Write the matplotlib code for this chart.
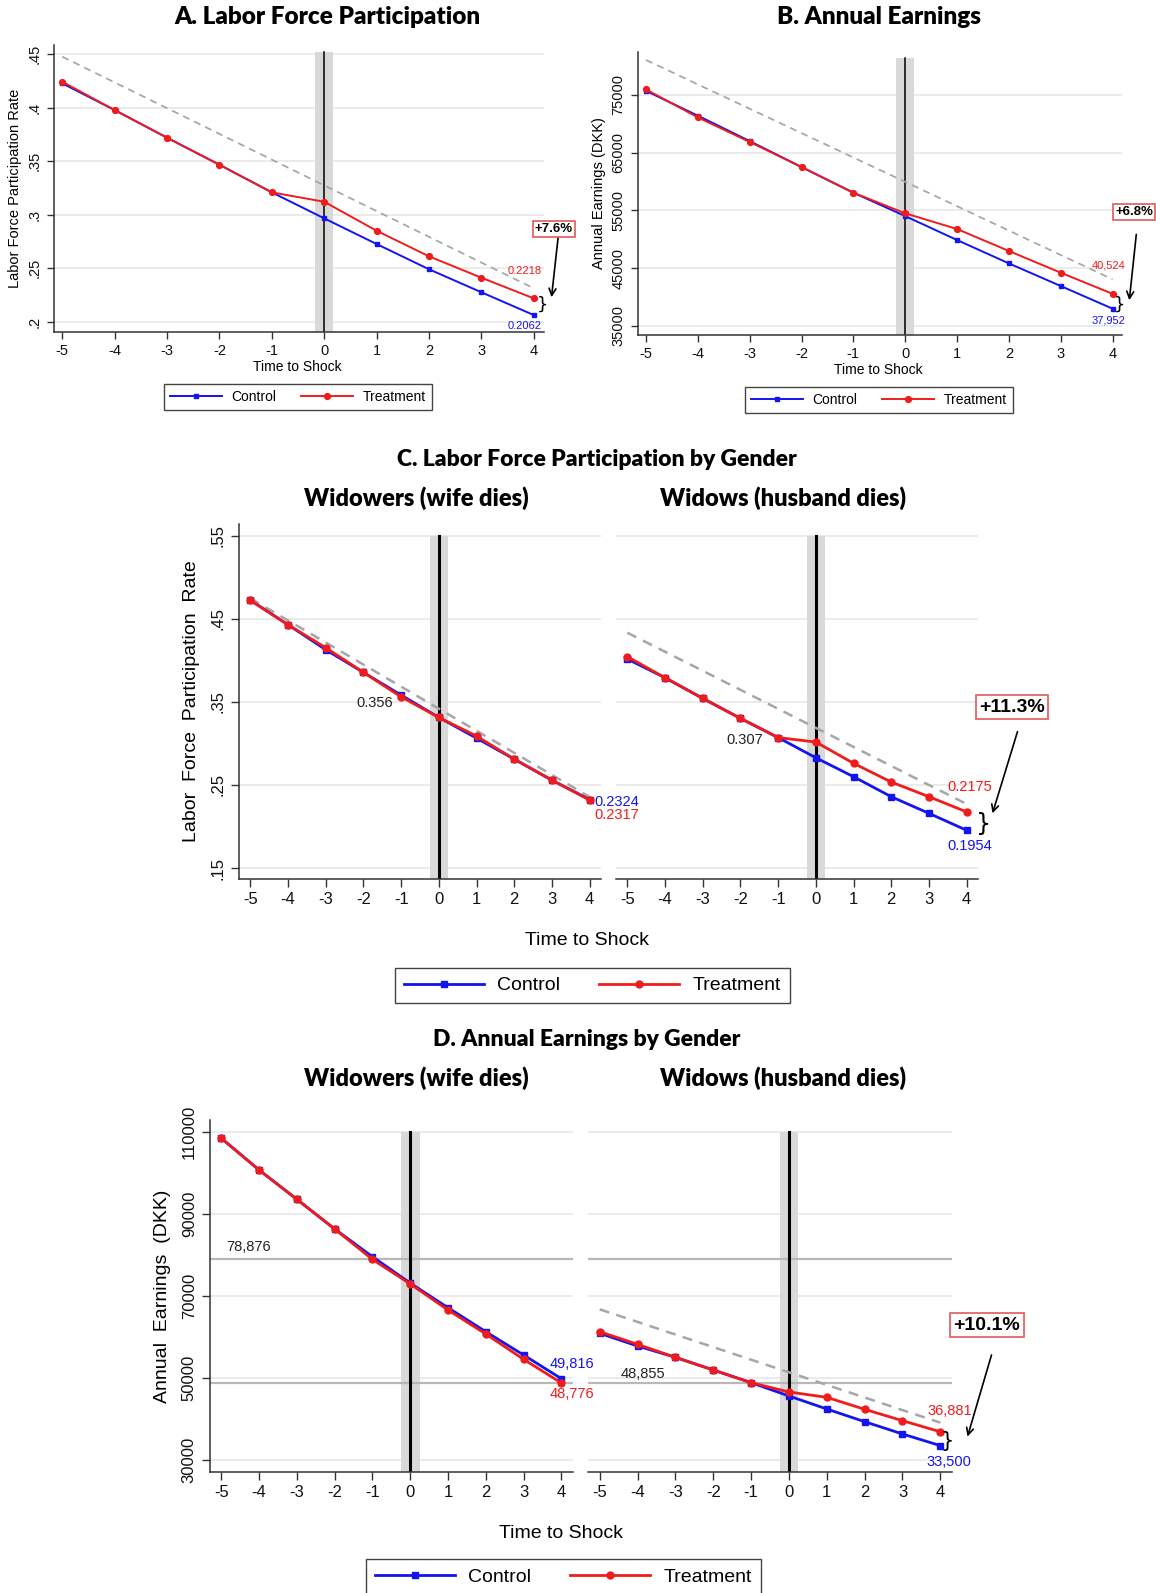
import numpy as np
import matplotlib
matplotlib.use("Agg")
import matplotlib.pyplot as plt
from matplotlib.lines import Line2D
from matplotlib.ticker import FuncFormatter

W, H = 1156, 1593
plt.rcParams['font.family'] = ['Liberation Sans', 'DejaVu Sans']
plt.rcParams['axes.unicode_minus'] = False

t = np.arange(-5, 5)
trend_x = [-5, 4]

# A. labor force participation, all
lfp_ctrl = [0.4228, 0.3978, 0.3720, 0.3467, 0.3209, 0.2966, 0.2726, 0.2490, 0.2275, 0.2062]
lfp_treat = [0.4243, 0.3978, 0.3720, 0.3467, 0.3209, 0.3121, 0.2850, 0.2611, 0.2411, 0.2218]
lfp_trend = [0.4477, 0.2312]

# B. annual earnings, all
earn_ctrl = [75700, 71400, 67000, 62500, 58050, 54000, 49850, 45800, 41880, 37952]
earn_treat = [75950, 71100, 66850, 62500, 58050, 54480, 51760, 47950, 44190, 40524]
earn_trend = [81050, 43040]

# C. labor force participation, widowers / widows
lfp_m_ctrl = [0.4722, 0.4428, 0.4127, 0.3854, 0.3581, 0.3312, 0.3063, 0.2810, 0.2557, 0.2324]
lfp_m_treat = [0.4722, 0.4428, 0.4151, 0.3854, 0.3560, 0.3312, 0.3087, 0.2810, 0.2557, 0.2317]
lfp_m_trend = [0.4745, 0.2355]
lfp_f_ctrl = [0.4015, 0.3790, 0.3542, 0.3301, 0.3070, 0.2827, 0.2599, 0.2358, 0.2158, 0.1954]
lfp_f_treat = [0.4043, 0.3790, 0.3542, 0.3301, 0.3070, 0.3016, 0.2760, 0.2535, 0.2358, 0.2175]
lfp_f_trend = [0.4332, 0.2270]

# D. annual earnings, widowers / widows (widowers' trend sits under the lines)
earn_m_ctrl = [108400, 100660, 93520, 86290, 79540, 73100, 67110, 61260, 55590, 49816]
earn_m_treat = [108400, 100660, 93520, 86290, 78876, 72900, 66550, 60700, 54540, 48776]
earn_f_ctrl = [60870, 57780, 55020, 51930, 48855, 45600, 42430, 39340, 36340, 33500]
earn_f_treat = [61260, 58190, 55020, 51930, 48855, 46570, 45280, 42350, 39580, 36881]
earn_f_trend = [66720, 39090]
ref_levels = [78876, 48855]

BLUE = '#1414f0'
RED = '#f01c1c'
GRID = '#e9e9e9'
TITLE_FONT = ['Lato', 'DejaVu Sans']
TITLE_WEIGHT = 'heavy'

fig = plt.figure(figsize=(W / 100, H / 100), dpi=100)


def box(l, t_, r, b):
    return [l / W, 1 - b / H, (r - l) / W, (b - t_) / H]


def ftext(x, y, s, **kw):
    fig.text(x / W, 1 - y / H, s, **kw)


def dot_fmt(v, pos):
    s = ('%g' % v)
    return s[1:] if s.startswith('0.') else s


def panel(rect, ctrl, treat, trend, yticks, ylim, xlim, band, top_frac,
          fs, lw, ms, vlw, left=True):
    ax = fig.add_axes(rect)
    ax.patch.set_visible(False)
    ax.set_xlim(*xlim)
    ax.set_ylim(*ylim)
    ax.set_yticks(yticks)
    ax.set_xticks(t)
    ax.yaxis.set_major_formatter(FuncFormatter(dot_fmt))
    ax.grid(axis='y', color=GRID, lw=1.3)
    ax.set_axisbelow(True)
    for side in ['top', 'right']:
        ax.spines[side].set_visible(False)
    for side in ['left', 'bottom']:
        ax.spines[side].set_color('#333333')
        ax.spines[side].set_linewidth(1.1)
    ax.tick_params(colors='#333333', labelcolor='#111111', labelsize=fs,
                   length=fs * 0.5, width=1.0)
    ax.tick_params(axis='y', labelrotation=90)
    for lab in ax.get_yticklabels():
        lab.set_va('center')
    if not left:
        ax.spines['left'].set_visible(False)
        ax.tick_params(axis='y', left=False, labelleft=False)
    ax.axvspan(-band, band, ymin=0, ymax=top_frac, color='#d9d9d9', lw=0, zorder=1)
    ax.axvline(0, ymin=0, ymax=top_frac, color='black', lw=vlw, zorder=2)
    if trend is not None:
        ax.plot(trend_x, trend, color='#a6a6a6', lw=lw * 0.9, ls=(0, (4, 3)), zorder=3)
    ax.plot(t, ctrl, color=BLUE, lw=lw, marker='s', ms=ms * 0.85, zorder=4)
    ax.plot(t, treat, color=RED, lw=lw, marker='o', ms=ms, zorder=5)
    return ax


def label(ax, x, y, s, dx, dy, color, fs, ha='center'):
    ax.annotate(s, xy=(x, y), xytext=(dx, dy), textcoords='offset pixels',
                ha=ha, va='center', color=color, fontsize=fs,
                annotation_clip=False, zorder=10)


def pct_box(x, y, s, fs):
    ftext(x, y, s, ha='center', va='center', fontsize=fs, fontweight='bold',
          bbox=dict(boxstyle='square,pad=0.18', fc='white', ec='#e05a5a', lw=1.2))


def arrow(x0, y0, x1, y1):
    fig.add_artist(matplotlib.patches.FancyArrowPatch(
        (x0 / W, 1 - y0 / H), (x1 / W, 1 - y1 / H), transform=fig.transFigure,
        arrowstyle='->,head_length=5,head_width=2.5', color='black', lw=1.2))


def brace(x, y, fs):
    ftext(x, y, '}', ha='center', va='center', fontsize=fs, color='black',
          family=['DejaVu Sans'])


def legend(cx, cy, fs, ms, lw, hl, cs):
    handles = [Line2D([], [], color=BLUE, marker='s', ms=ms * 0.85, lw=lw),
               Line2D([], [], color=RED, marker='o', ms=ms, lw=lw)]
    fig.legend(handles, ['Control', 'Treatment'], loc='center',
               bbox_to_anchor=(cx / W, 1 - cy / H), ncol=2, fontsize=fs,
               frameon=True, fancybox=False, edgecolor='#444444', framealpha=1,
               handlelength=hl, handletextpad=0.7, columnspacing=cs,
               borderpad=0.45, numpoints=1)


# ---- A ----
axA = panel(box(53.6, 45, 543.8, 332), lfp_ctrl, lfp_treat, lfp_trend,
            [0.2, 0.25, 0.3, 0.35, 0.4, 0.45], (0.1904, 0.4586), (-5.164, 4.19),
            0.176, 0.976, 10.5, 1.4, 4.2, 1.1)
axA.set_ylabel('Labor Force Participation Rate', fontsize=10.5, labelpad=4)
label(axA, 4, lfp_treat[-1], '0.2218', 8, 27, RED, 8, ha='right')
label(axA, 4, lfp_ctrl[-1], '0.2062', 8, -11, BLUE, 8, ha='right')
ftext(327, 17, 'A. Labor Force Participation', ha='center', va='center',
      fontsize=17.5, fontweight=TITLE_WEIGHT, family=TITLE_FONT)
ftext(297, 367, 'Time to Shock', ha='center', va='center', fontsize=10)
pct_box(554, 229, '+7.6%', 9.5)
arrow(558.6, 233, 551.2, 300)
brace(542.7, 305, 13)
legend(298, 397, 10, 4.2, 1.4, 3.7, 1.8)

# ---- B ----
axB = panel(box(637.7, 51.7, 1121.9, 335), earn_ctrl, earn_treat, earn_trend,
            [35000, 45000, 55000, 65000, 75000], (33390, 82490), (-5.16, 4.18),
            0.17, 0.976, 10.5, 1.4, 4.2, 1.1)
axB.set_ylabel('Annual Earnings (DKK)', fontsize=10.5, labelpad=4)
label(axB, 4, earn_treat[-1], '40,524', 13, 28, RED, 8, ha='right')
label(axB, 4, earn_ctrl[-1], '37,952', 13, -12, BLUE, 8, ha='right')
ftext(879, 17, 'B. Annual Earnings', ha='center', va='center',
      fontsize=17.5, fontweight=TITLE_WEIGHT, family=TITLE_FONT)
ftext(878, 370, 'Time to Shock', ha='center', va='center', fontsize=10)
pct_box(1134, 212, '+6.8%', 9.5)
arrow(1136.6, 231.7, 1129, 303)
brace(1120, 304.5, 13)
legend(879, 400, 10, 4.2, 1.4, 3.7, 1.8)

# ---- C ----
c_ticks = [0.15, 0.25, 0.35, 0.45, 0.55]
axC1 = panel(box(239, 524, 601, 879), lfp_m_ctrl, lfp_m_treat, lfp_m_trend,
             c_ticks, (0.1368, 0.564), (-5.3, 4.3), 0.24, 0.967, 12, 2.0, 5.0, 2.2)
axC1.set_ylabel('Labor  Force  Participation  Rate', fontsize=14, labelpad=8)
label(axC1, 4, lfp_m_ctrl[-1], '0.2324', 5, -2, BLUE, 10.5, ha='left')
label(axC1, 4, lfp_m_treat[-1], '0.2317', 5, -15, RED, 10.5, ha='left')
label(axC1, -1, lfp_m_treat[4], '0.356', -8, -6, '#222222', 10.5, ha='right')

axC2 = panel(box(616, 524, 978, 879), lfp_f_ctrl, lfp_f_treat, lfp_f_trend,
             c_ticks, (0.1368, 0.564), (-5.3, 4.3), 0.24, 0.967, 12, 2.0, 5.0, 2.2,
             left=False)
label(axC2, -1, lfp_f_treat[4], '0.307', -15, -2, '#222222', 10.5, ha='right')
label(axC2, 4, lfp_f_treat[-1], '0.2175', 3, 25, RED, 10.5)
label(axC2, 4, lfp_f_ctrl[-1], '0.1954', 3, -16, BLUE, 10.5)

ftext(597, 459, 'C. Labor Force Participation by Gender', ha='center', va='center',
      fontsize=16.5, fontweight=TITLE_WEIGHT, family=TITLE_FONT)
ftext(416, 498, 'Widowers (wife dies)', ha='center', va='center',
      fontsize=17, fontweight=TITLE_WEIGHT, family=TITLE_FONT)
ftext(783, 498, 'Widows (husband dies)', ha='center', va='center',
      fontsize=17, fontweight=TITLE_WEIGHT, family=TITLE_FONT)
ftext(587, 941, 'Time to Shock', ha='center', va='center', fontsize=14)
pct_box(1012, 707, '+11.3%', 14)
arrow(1018.3, 729, 991.7, 816)
brace(983.3, 824, 17)
legend(592.5, 985.5, 14, 5.0, 2.0, 4.1, 2.0)

# ---- D ----
d_ticks = [30000, 50000, 70000, 90000, 110000]
axD1 = panel(box(210, 1120, 572.7, 1471.7), earn_m_ctrl, earn_m_treat, None,
             d_ticks, (27150, 112850), (-5.3, 4.3), 0.246, 0.967, 12, 2.0, 5.0, 2.2)
axD2 = panel(box(588.3, 1120, 951.7, 1471.7), earn_f_ctrl, earn_f_treat, earn_f_trend,
             d_ticks, (27150, 112850), (-5.3, 4.3), 0.246, 0.967, 12, 2.0, 5.0, 2.2,
             left=False)
for ax in (axD1, axD2):
    for lvl in ref_levels:
        ax.axhline(lvl, color='#b8b8b8', lw=1.6, zorder=1.5)
axD1.set_ylabel('Annual  Earnings  (DKK)', fontsize=14, labelpad=8)
label(axD1, -5, ref_levels[0], '78,876', 27, 12, '#222222', 10.5)
label(axD1, 4, earn_m_ctrl[-1], '49,816', 11, 15, BLUE, 10.5)
label(axD1, 4, earn_m_treat[-1], '48,776', 11, -11, RED, 10.5)
label(axD2, -5, ref_levels[1], '48,855', 43, 9, '#222222', 10.5)
label(axD2, 4, earn_f_treat[-1], '36,881', 9, 21, RED, 10.5)
label(axD2, 4, earn_f_ctrl[-1], '33,500', 9, -16, BLUE, 10.5)

ftext(587, 1040, 'D. Annual Earnings by Gender', ha='center', va='center',
      fontsize=16.5, fontweight=TITLE_WEIGHT, family=TITLE_FONT)
ftext(416, 1078, 'Widowers (wife dies)', ha='center', va='center',
      fontsize=17, fontweight=TITLE_WEIGHT, family=TITLE_FONT)
ftext(783, 1078, 'Widows (husband dies)', ha='center', va='center',
      fontsize=17, fontweight=TITLE_WEIGHT, family=TITLE_FONT)
ftext(561, 1533, 'Time to Shock', ha='center', va='center', fontsize=14)
pct_box(987, 1325, '+10.1%', 14)
arrow(992.3, 1352.3, 966.7, 1439.3)
brace(946.7, 1441, 15)
legend(563.5, 1577, 14, 5.0, 2.0, 4.1, 2.0)

fig.savefig('out.png', dpi=100, facecolor='white')
